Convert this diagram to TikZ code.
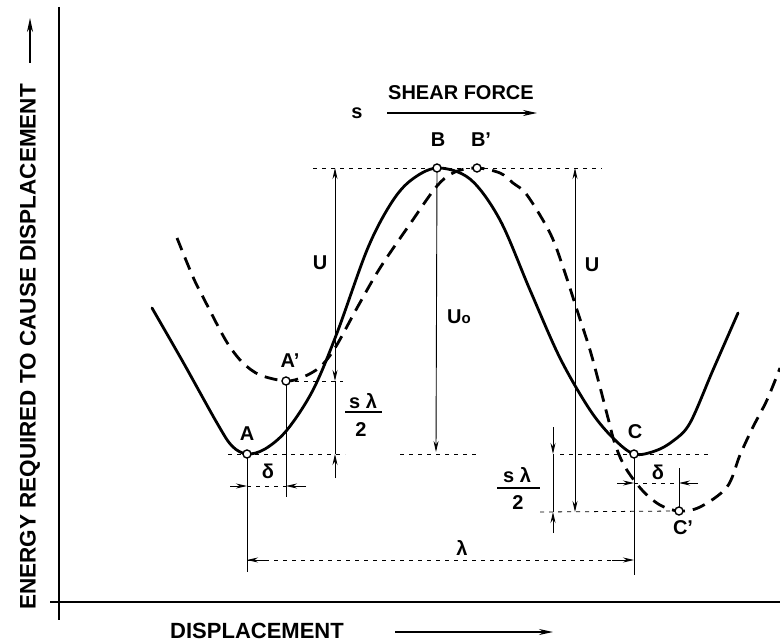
\documentclass[tikz,border=0pt]{standalone}
\usepackage{fontspec}
\setmainfont{Liberation Sans}
\usetikzlibrary{arrows.meta}
\begin{document}
\begin{tikzpicture}[x=1pt,y=-1pt,
 curve/.style={line width=2.8pt, line cap=round, line join=round},
 dcurve/.style={line width=2.8pt, dash pattern=on 13pt off 8pt},
 axis/.style={line width=1.8pt},
 dim/.style={line width=0.9pt},
 ext/.style={line width=0.8pt, dash pattern=on 4pt off 5pt},
 tip/.style={-{Stealth[length=11pt,width=5pt]}},
 bigtip/.style={line width=1.6pt,-{Stealth[length=14pt,width=6pt]}},
 pt/.style={circle, draw, fill=white, inner sep=0pt, minimum size=8pt, line width=1.4pt},
 lbl/.style={font=\fontsize{20}{20}\selectfont\bfseries, inner sep=0pt},
 big/.style={font=\fontsize{22}{22}\selectfont\bfseries, inner sep=0pt},
]
\useasboundingbox (0,0) rectangle (780,642);

% key points
\coordinate (a) at (247,454);
\coordinate (ap) at (286,381);
\coordinate (b) at (437,168);
\coordinate (bp) at (477,168);
\coordinate (c) at (634,454);
\coordinate (cp) at (679,511);

% axes
\coordinate (yT) at (59,7);
\coordinate (yB) at (59,620);
\coordinate (xL) at (50,602);
\coordinate (xR) at (780,602);
\draw[axis] (yT) -- (yB);
\draw[axis] (xL) -- (xR);

% solid curve
\draw[curve] plot[smooth, tension=0.55] coordinates {
 (152,308) (183,362) (217,423) (232,446) (247,454) (265,449) (287,430)
 (313,390) (337,333) (367,250) (390,205) (410,181) (437,168) (470,179)
 (500,220) (530,290) (560,358) (590,410) (613,438) (634,454) (655,451)
 (673,441) (690,423) (713,370) (738,313)};

% dashed curve
\draw[dcurve] plot[smooth, tension=0.55] coordinates {
 (177,238) (193,277) (203,297) (220,330) (230,347) (243,363) (260,375)
 (286,381) (303,377) (320,367) (335,348) (357,308) (380,268) (410,224)
 (437,186) (455,172) (477,168) (500,173) (513,183) (527,195) (550,233)
 (563,267) (577,310) (590,350) (600,387) (608,418) (615,444) (625,467)
 (642,490) (660,505) (679,511) (700,507) (727,487) (740,455) (753,427)
 (767,400) (780,368)};

% extension lines
\coordinate (t1) at (313,168); \coordinate (t2) at (602,168);
\draw[ext] (t1) -- (t2);
\coordinate (apR) at (343,381);
\draw[ext] (ap) -- (apR);
\coordinate (aL) at (228,454); \coordinate (aR) at (345,454);
\draw[ext] (aL) -- (aR);
\coordinate (mL) at (400,454); \coordinate (mR) at (480,454);
\draw[ext] (mL) -- (mR);
\coordinate (cL) at (560,454); \coordinate (cR) at (712,454);
\draw[ext] (cL) -- (cR);
\coordinate (cpL) at (540,512);
\draw[ext] (cpL) -- (cp);

% verticals from points
\coordinate (aBot) at (247,572);
\coordinate (apBot) at (286,497);
\coordinate (cBot) at (634,575);
\coordinate (cpTop) at (679,468);
\draw[dim] (a) -- (aBot);
\draw[dim] (ap) -- (apBot);
\draw[dim] (c) -- (cBot);
\draw[dim] (cpTop) -- (cp);

% U (left) and s lambda/2 (left)
\coordinate (uLT) at (335,168); \coordinate (uLM) at (335,381);
\coordinate (uLB) at (335,478); \coordinate (uLA) at (335,454);
\draw[dim,{Stealth[length=11pt,width=5pt]}-{Stealth[length=11pt,width=5pt]}] (uLT) -- (uLM);
\draw[dim] (uLM) -- (uLA);
\draw[dim,tip] (uLB) -- (uLA);

% U0
\coordinate (u0B) at (436,452);
\draw[dim,tip] (b) -- (u0B);

% U (right)
\coordinate (uRT) at (575,168); \coordinate (uRB) at (575,512);
\draw[dim,{Stealth[length=11pt,width=5pt]}-{Stealth[length=11pt,width=5pt]}] (uRT) -- (uRB);

% s lambda/2 (right)
\coordinate (sR1) at (553,427); \coordinate (sR2) at (553,454);
\coordinate (sR3) at (553,533); \coordinate (sR4) at (553,512);
\draw[dim,tip] (sR1) -- (sR2);
\draw[dim] (sR2) -- (sR4);
\draw[dim,tip] (sR3) -- (sR4);

% delta (left)
\coordinate (dL1) at (230,486); \coordinate (dL2) at (247,486);
\coordinate (dL3) at (306,486); \coordinate (dL4) at (286,486);
\draw[dim,tip] (dL1) -- (dL2);
\draw[dim,tip] (dL3) -- (dL4);
\draw[ext] (dL2) -- (dL4);

% delta (right)
\coordinate (dR1) at (617,483); \coordinate (dR2) at (634,483);
\coordinate (dR3) at (698,483); \coordinate (dR4) at (679,483);
\draw[dim,tip] (dR1) -- (dR2);
\draw[dim,tip] (dR3) -- (dR4);
\draw[ext] (dR2) -- (dR4);

% lambda
\coordinate (lL1) at (265,560); \coordinate (lL2) at (247,560);
\coordinate (lR1) at (612,560); \coordinate (lR2) at (634,560);
\draw[ext] (lL2) -- (lR2);
\draw[dim,tip] (lL1) -- (lL2);
\draw[dim,tip] (lR1) -- (lR2);

% points
\node[pt] (A) at (a) {};
\node[pt] (Ap) at (ap) {};
\node[pt] (B) at (b) {};
\node[pt] (Bp) at (bp) {};
\node[pt] (C) at (c) {};
\node[pt] (Cp) at (cp) {};

% point labels
\node[lbl] (lA) at (247,434) {A};
\node[lbl] (lAp) at (290,361) {A'};
\node[lbl] (lB) at (438,140) {B};
\node[lbl] (lBp) at (481,140) {B'};
\node[lbl] (lC) at (635,432) {C};
\node[lbl] (lCp) at (683,528) {C'};

% dimension labels
\node[lbl] (lUL) at (320,263) {U};
\node[lbl] (lUR) at (592,265) {U};
\node[lbl] (lU0) at (459,317) {U{\fontsize{15}{15}\selectfont o}};
\node[lbl] (ldL) at (268,471) {δ};
\node[lbl] (ldR) at (658,472) {δ};
\node[lbl] (llam) at (462,548) {λ};

\node[lbl] (slL) at (363,401) {s λ};
\coordinate (bl1) at (345,412); \coordinate (bl2) at (382,412);
\draw[line width=1.5pt] (bl1) -- (bl2);
\node[lbl] (twoL) at (361,430) {2};

\node[lbl] (slR) at (517,475) {s λ};
\coordinate (br1) at (497,488); \coordinate (br2) at (540,488);
\draw[line width=1.5pt] (br1) -- (br2);
\node[lbl] (twoR) at (518,503) {2};

% shear force
\node[lbl] (sf) at (461,93) {SHEAR FORCE};
\node[lbl, anchor=base] (s) at (357,119) {s};
\coordinate (sf1) at (387,113); \coordinate (sf2) at (537,113);
\draw[bigtip] (sf1) -- (sf2);

% displacement
\node[big] (disp) at (257,631) {DISPLACEMENT};
\coordinate (dx1) at (395,632); \coordinate (dx2) at (553,632);
\draw[bigtip] (dx1) -- (dx2);

% energy
\node[big, font=\fontsize{22.5}{22.5}\selectfont\bfseries, rotate=90] (en) at (30,347) {ENERGY REQUIRED TO CAUSE DISPLACEMENT};
\coordinate (ey1) at (30,63); \coordinate (ey2) at (30,18);
\draw[bigtip] (ey1) -- (ey2);
\end{tikzpicture}
\end{document}
